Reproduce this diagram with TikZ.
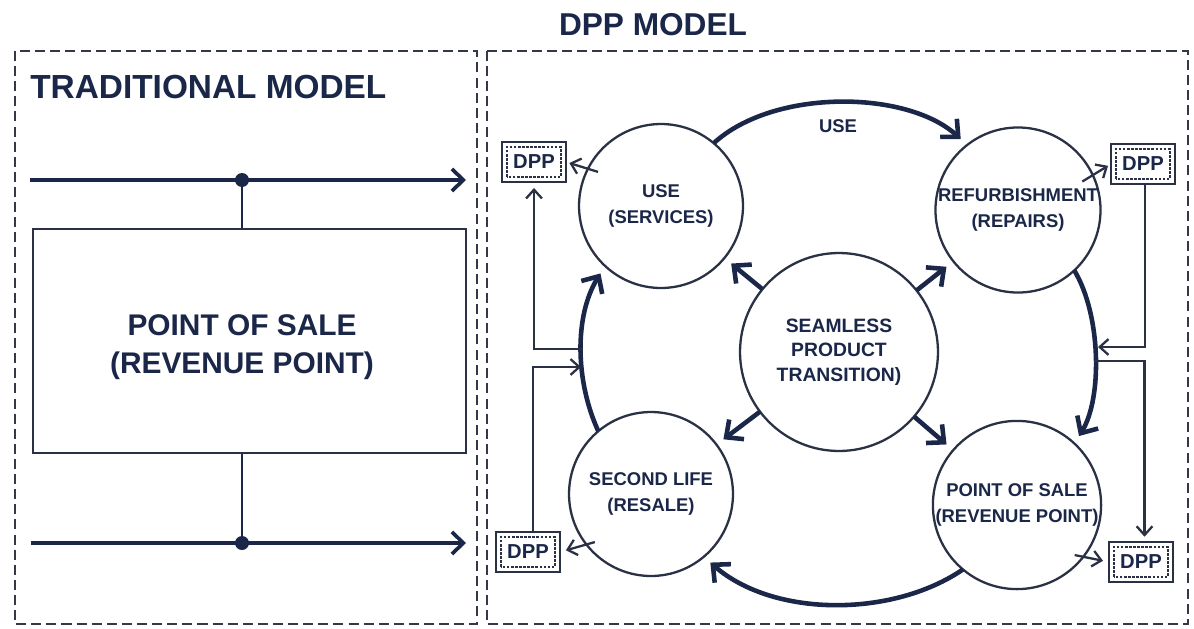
\documentclass[tikz,border=0pt]{standalone}
\usepackage{fontspec}
\setmainfont{Liberation Sans}
\usetikzlibrary{arrows.meta,calc}
\definecolor{navy}{HTML}{1B2749}
\definecolor{linec}{HTML}{2A3145}
\definecolor{dashc}{HTML}{333947}
\begin{document}
\begin{tikzpicture}[x=0.02cm,y=-0.02cm,
  panel/.style={draw=dashc,line width=1.4pt,dash pattern=on 5.7pt off 2.9pt},
  stage/.style={circle,draw=linec,line width=1.3pt,minimum size=3.28cm,inner sep=0pt,outer sep=0pt,align=center,text=navy,font=\bfseries\fontsize{10.5}{14.8}\selectfont},
  flow/.style={draw=navy,line width=2.6pt,-{Straight Barb[length=7.5pt,width=14pt]},shorten >=5pt},
  dppbox/.style={draw=linec,line width=1.4pt,minimum width=1.28cm,minimum height=0.8cm,inner sep=0pt,outer sep=0pt,text=navy,font=\bfseries\fontsize{11.5}{13}\selectfont,
    path picture={\draw[linec,line width=1.3pt,densely dotted] ([xshift=3pt,yshift=3pt]path picture bounding box.south west) rectangle ([xshift=-3pt,yshift=-3pt]path picture bounding box.north east);}},
  link/.style={draw=linec,line width=1.3pt,-{Straight Barb[length=5pt,width=9pt]}},
  trad/.style={draw=navy,line width=2.1pt},
  tradarrow/.style={trad,-{Straight Barb[length=6.5pt,width=12.5pt]}},
  heading/.style={text=navy,font=\bfseries\fontsize{19}{22}\selectfont,inner sep=0pt}
]
\useasboundingbox[fill=white] (0,0) rectangle (1194,629);

% panels
\draw[panel] (15,51) rectangle (477,624);
\draw[panel] (487,51) rectangle (1188,624);

% titles
\node[heading,font=\bfseries\fontsize{18}{22}\selectfont] (title) at (653,25) {DPP MODEL};
\node[heading,anchor=base west] (tradtitle) at (30,98) {TRADITIONAL MODEL};

% ---------- traditional model ----------
\node[draw=linec,line width=1.5pt,minimum width=8.66cm,minimum height=4.48cm,inner sep=0pt] (sale) at (249.5,341) {};
\node[align=center,text=navy,inner sep=0pt,font=\bfseries\fontsize{17}{21.6}\selectfont] (saletext) at (242,347) {POINT OF SALE\\(REVENUE POINT)};
\coordinate (ta) at (30,180);
\coordinate (tb) at (466,180);
\coordinate (ba) at (31,543);
\coordinate (bb) at (466,543);
\node[circle,fill=navy,minimum size=0.28cm,inner sep=0pt] (dot1) at (242,180) {};
\node[circle,fill=navy,minimum size=0.28cm,inner sep=0pt] (dot2) at (242,543) {};
\draw[tradarrow] (ta) -- (tb);
\draw[tradarrow] (ba) -- (bb);
\draw[trad,line width=1.5pt] (dot1.center) -- (dot1 |- sale.north);
\draw[trad,line width=1.5pt] (dot2.center) -- (dot2 |- sale.south);

% ---------- DPP model ----------
\node[stage] (use) at (661,206) {USE\\(SERVICES)};
\node[stage] (ref) at (1018,210) {REFURBISHMENT\\(REPAIRS)};
\node[stage] (second) at (651,494) {SECOND LIFE\\(RESALE)};
\node[stage] (pos) at (1017,505) {POINT OF SALE\\(REVENUE POINT)};
\node[stage,minimum size=3.96cm,font=\bfseries\fontsize{11}{13.9}\selectfont] (seam) at (839,352) {SEAMLESS\\PRODUCT\\TRANSITION)};

% cycle
\draw[flow] (use.50) .. controls +(60,-55) and +(-60,-55) .. (ref.128);
\node[text=navy,font=\bfseries\fontsize{10.5}{12}\selectfont,inner sep=0pt] (uselabel) at (838,126) {USE};
\draw[flow] (ref.-47) .. controls +(27,45) and +(28,-45) .. (pos.47);
\draw[flow] (pos.-130) .. controls +(-70,48) and +(70,61) .. (second.-50);
\draw[flow] (second.130) .. controls +(-23,-50) and +(-31,50) .. (use.-133);

% spokes
\draw[flow] (seam) -- (use);
\draw[flow] (seam) -- (ref);
\draw[flow] (seam) -- (second);
\draw[flow] (seam) -- (pos);

% DPP boxes
\node[dppbox] (dpp1) at (534,162) {DPP};
\node[dppbox] (dpp2) at (1143,164) {DPP};
\node[dppbox] (dpp3) at (528,552) {DPP};
\node[dppbox] (dpp4) at (1141,562) {DPP};

\draw[link,shorten <=-6pt,shorten >=2pt] (use.153) -- (dpp1.east);
\draw[link,shorten <=-7pt,shorten >=2pt] (ref.25) -- (dpp2.west);
\draw[link,shorten <=-5pt,shorten >=3.5pt] (second.-142) -- (dpp3.east);
\draw[link,shorten <=-5pt,shorten >=3.5pt] (pos.-38) -- (dpp4.west);

% junctions on the cycle
\coordinate (jl1) at (583,349);
\coordinate (jl2) at (581,367);
\coordinate (jr1) at (1098,347);
\coordinate (jr2) at (1094,361);

\draw[link,shorten >=3.4pt] (jl1) -| (dpp1.south);
\draw[link] ([xshift=3pt]dpp3.north) |- (jl2);
\draw[link] ([xshift=1pt]dpp2.south) |- (jr1);
\draw[link,shorten >=3pt] (jr2) -| ([xshift=2pt]dpp4.north);
\end{tikzpicture}
\end{document}
